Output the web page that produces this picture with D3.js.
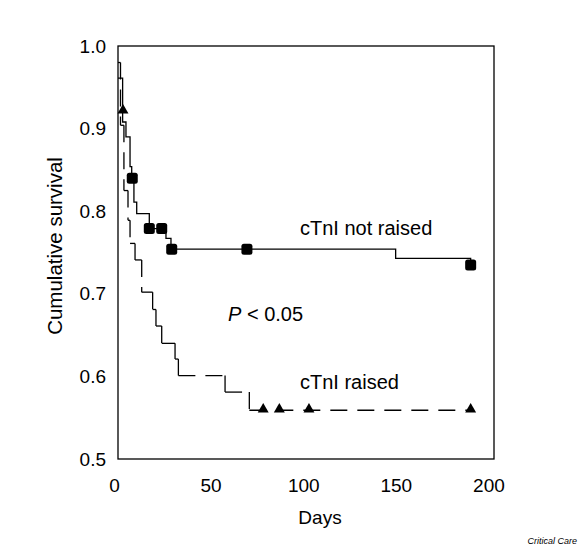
<!DOCTYPE html>
<html>
<head>
<meta charset="utf-8">
<script src="https://cdn.jsdelivr.net/npm/d3@7"></script>
<style>
  html, body { margin: 0; padding: 0; background: #fff; }
  svg text { font-family: "Liberation Sans", Arial, Helvetica, sans-serif; fill: #000; }
</style>
</head>
<body>
<svg id="chart" width="579" height="548"></svg>
<script>
// ---- Data ----
// Kaplan–Meier step curves: [day, survival after the step]
const notRaisedSteps = [
  [0, 0.961], [2.5, 0.908], [4.3, 0.890], [6.5, 0.854], [7.4, 0.840],
  [8.6, 0.811], [10.1, 0.797], [16.9, 0.779], [25.9, 0.767], [28.6, 0.754],
  [149.9, 0.743], [190.4, 0.735]
];
const notRaisedEnd = 190.4;
const notRaisedCensored = [[7.7, 0.840], [16.9, 0.779], [23.6, 0.779], [29.0, 0.754], [69.6, 0.754], [190.4, 0.735]];

const raisedSteps = [
  [0, 0.980], [1.35, 0.904], [3.2, 0.825], [5.4, 0.789], [6.5, 0.761],
  [9.2, 0.741], [12.8, 0.702], [18.7, 0.681], [20.5, 0.661], [23.6, 0.640],
  [30.8, 0.621], [32.6, 0.601], [57.8, 0.581], [70.9, 0.559]
];
const raisedEnd = 190.4;
const raisedCensored = [[2.7, 0.921], [78.4, 0.559], [87.1, 0.559], [103.1, 0.559], [190.4, 0.559]];

const xTicks = [0, 50, 100, 150, 200];
const yTicks = [0.5, 0.6, 0.7, 0.8, 0.9, 1.0];
const xTitle = "Days";
const yTitle = "Cumulative survival";
const labelNotRaised = "cTnI not raised";
const labelRaised = "cTnI raised";
const credit = "Critical Care";

// ---- Layout ----
const svg = d3.select("#chart");
const L = 118, T = 46, R = 494, B = 459;
const x = d3.scaleLinear().domain([0, 203]).range([L, R]);
const y = d3.scaleLinear().domain([0.5, 1.0]).range([B, T]);

// Frame
svg.append("rect").attr("x", L).attr("y", T).attr("width", R - L).attr("height", B - T)
  .attr("fill", "none").attr("stroke", "#000").attr("stroke-width", 1.3);

// Axes (labels only, no tick marks)
const xAxis = svg.append("g").attr("transform", `translate(0,${B})`)
  .call(d3.axisBottom(x).tickValues(xTicks).tickSize(0).tickPadding(20).tickFormat(d3.format("d")));
const yAxis = svg.append("g").attr("transform", `translate(${L},0)`)
  .call(d3.axisLeft(y).tickValues(yTicks).tickSize(0).tickPadding(12).tickFormat(d3.format(".1f")));
[xAxis, yAxis].forEach(g => {
  g.select(".domain").remove();
  g.selectAll("text").attr("font-size", 19).attr("font-family", '"Liberation Sans", Arial, sans-serif').attr("fill", "#000");
});
xAxis.selectAll("text").attr("dy", "0.71em");
xAxis.selectAll("text").attr("dx", d => d === 0 ? -4 : 0);

// Step line generator (solid curve)
const line = d3.line().x(d => x(d[0])).y(d => y(d[1])).curve(d3.curveStepAfter);

svg.append("path").datum(notRaisedSteps.concat([[notRaisedEnd, notRaisedSteps[notRaisedSteps.length - 1][1]]]))
  .attr("d", line).attr("fill", "none").attr("stroke", "#000").attr("stroke-width", 1.3);

// Dashed curve: each horizontal / vertical segment drawn separately so the dash pattern restarts
const rPts = raisedSteps.concat([[raisedEnd, raisedSteps[raisedSteps.length - 1][1]]]);
const segs = [];
for (let i = 0; i < rPts.length - 1; i++) {
  const a = rPts[i], b = rPts[i + 1];
  segs.push([[a[0], a[1]], [b[0], a[1]]]);            // horizontal
  if (b[1] !== a[1]) segs.push([[b[0], a[1]], [b[0], b[1]]]); // vertical drop
}
svg.selectAll("line.rs").data(segs).enter().append("line").attr("class", "rs")
  .attr("x1", d => x(d[0][0])).attr("y1", d => y(d[0][1]))
  .attr("x2", d => x(d[1][0])).attr("y2", d => y(d[1][1]))
  .attr("stroke", "#000").attr("stroke-width", 1.3).attr("stroke-dasharray", "17,10");

// Censor markers
svg.selectAll("rect.sq").data(notRaisedCensored).enter().append("rect").attr("class", "sq")
  .attr("x", d => x(d[0]) - 5.5).attr("y", d => y(d[1]) - 5.5)
  .attr("width", 11).attr("height", 11).attr("rx", 2.5).attr("fill", "#000");

const tri = d3.symbol().type(d3.symbolTriangle).size(52);
svg.selectAll("path.tri").data(raisedCensored).enter().append("path").attr("class", "tri")
  .attr("d", tri).attr("transform", d => `translate(${x(d[0])},${y(d[1]) - 1})`).attr("fill", "#000");

// Text annotations
svg.append("text").attr("x", 300).attr("y", 235).attr("font-size", 20).text(labelNotRaised);
svg.append("text").attr("x", 300).attr("y", 389).attr("font-size", 20).text(labelRaised);
const p = svg.append("text").attr("x", 228).attr("y", 321).attr("font-size", 20);
p.append("tspan").attr("font-style", "italic").text("P");
p.append("tspan").text(" < 0.05");

// Axis titles
svg.append("text").attr("x", 320).attr("y", 524).attr("text-anchor", "middle").attr("font-size", 19).text(xTitle);
svg.append("text").attr("transform", "translate(62,246) rotate(-90)").attr("text-anchor", "middle")
  .attr("font-size", 20.5).text(yTitle);

svg.append("text").attr("x", 577).attr("y", 544).attr("text-anchor", "end").attr("font-size", 9)
  .attr("font-style", "italic").text(credit);
</script>
</body>
</html>
